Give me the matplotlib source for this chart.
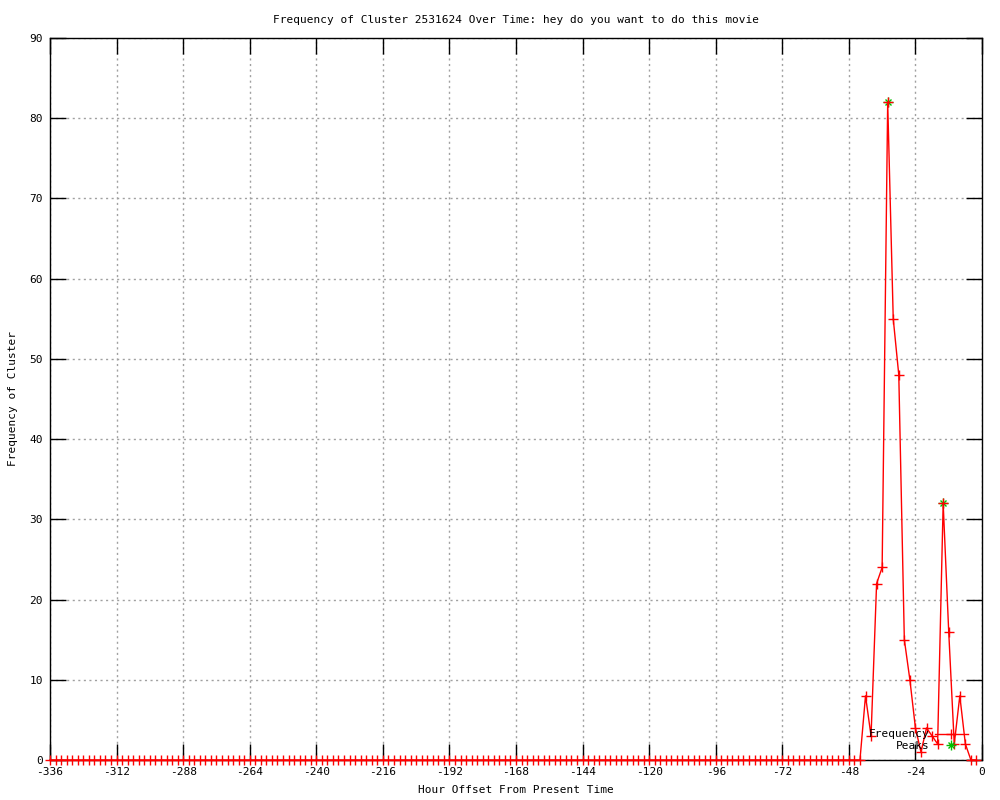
import numpy as np
import matplotlib.pyplot as plt
from matplotlib.lines import Line2D

# ===============================
# Data
# ===============================

hours = list(range(-336, 0, 2))
# everything before -42h is zero
freq = [0] * 147 + [8, 3, 22, 24, 82, 55, 48, 15, 10, 4, 1,
                    4, 3, 2, 32, 16, 2, 8, 2, 0, 0]

peak_hours = [-34, -14]
peak_values = [82, 32]

x_ticks = list(range(-336, 1, 24))
y_ticks = list(range(0, 91, 10))

TITLE = "Frequency of Cluster 2531624 Over Time: hey do you want to do this movie"

plt.rcParams['font.family'] = ['DejaVu Sans Mono']
plt.rcParams['font.size'] = 8
plt.rcParams['axes.unicode_minus'] = False


def main():
    fig = plt.figure(figsize=(10, 8), dpi=100)
    ax = fig.add_axes([0.05, 0.05, 0.932, 0.9025])

    # peaks: gnuplot "star" = + and x
    ax.plot(peak_hours, peak_values, ls='none', marker='x', color='#00c000',
            markersize=5, markeredgewidth=1, clip_on=False)
    ax.plot(peak_hours, peak_values, ls='none', marker='+', color='#00c000',
            markersize=6.5, markeredgewidth=1, clip_on=False)

    ax.plot(hours, freq, color='red', lw=1, marker='+', markersize=6.5,
            markeredgewidth=1, clip_on=False, zorder=3)

    ax.set_xlim(-336, 0)
    ax.set_ylim(0, 90)
    ax.set_xticks(x_ticks)
    ax.set_yticks(y_ticks)
    ax.tick_params(direction='in', length=11.5, width=1, top=True, right=True,
                   labelsize=8, pad=5)
    ax.grid(True, color='#a0a0a0', linestyle=(0, (1.5, 2.5)), linewidth=1)
    for s in ax.spines.values():
        s.set_linewidth(1)

    ax.set_title(TITLE, fontsize=8, pad=11)
    ax.set_xlabel("Hour Offset From Present Time", fontsize=8, labelpad=6)
    ax.set_ylabel("Frequency of Cluster", fontsize=8, labelpad=8)

    # key, text left of sample, bottom right
    h_freq = Line2D([], [], color='red', lw=1, marker='+', markersize=6.5)
    h_peak = (Line2D([], [], ls='none', marker='x', color='#00c000', markersize=5),
              Line2D([], [], ls='none', marker='+', color='#00c000', markersize=6.5))
    ax.legend([h_freq, h_peak], ["Frequency", "Peaks"], loc='lower right',
              bbox_to_anchor=(0.994, 0.0), markerfirst=False, frameon=False,
              fontsize=8, handlelength=2.9, handletextpad=0.5, labelspacing=0.15,
              borderpad=0.3)

    fig.savefig("out.png", dpi=100)


if __name__ == "__main__":
    main()
